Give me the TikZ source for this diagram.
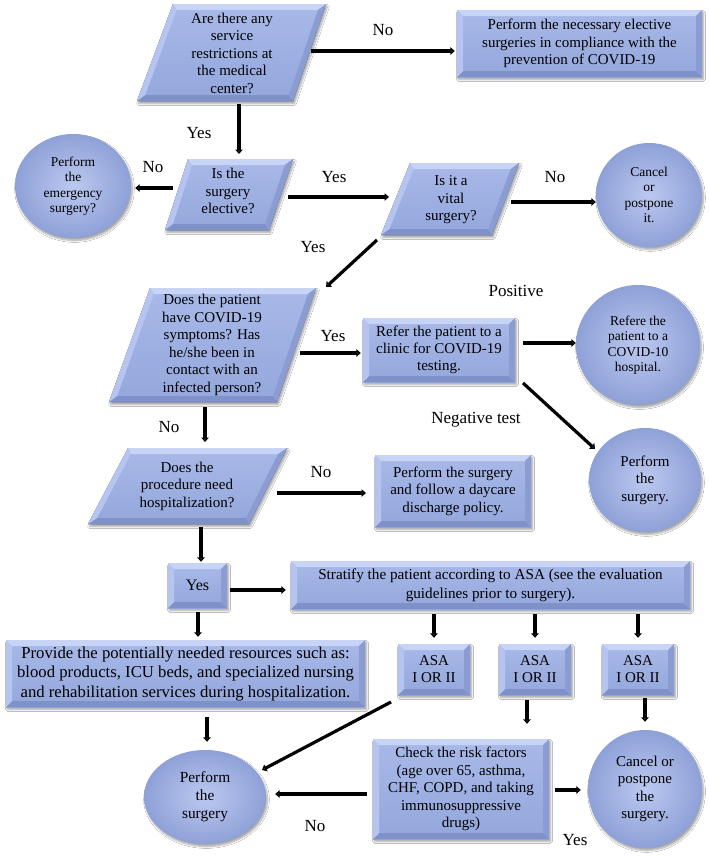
\documentclass[tikz,border=0pt]{standalone}
\usepackage{fontspec}
\setmainfont{Liberation Serif}
\usetikzlibrary{calc,arrows.meta,shadows.blur,shapes.geometric}
\definecolor{faceA}{HTML}{A8B9E8}
\definecolor{faceB}{HTML}{94A7DC}
\definecolor{bvT}{HTML}{C7D4F6}
\definecolor{bvL}{HTML}{B6C5EF}
\definecolor{bvR}{HTML}{8A9CD2}
\definecolor{bvB}{HTML}{7E91C8}
\definecolor{ballIn}{HTML}{BCC8F0}
\definecolor{ballOut}{HTML}{8EA1D7}
\newcommand{\myfs}[2]{\fontsize{#1}{#2}\selectfont}
\newcommand{\mypgram}[7]{%
  \coordinate (#1tl) at (#2,#6);
  \coordinate (#1tr) at (#3,#6);
  \coordinate (#1bl) at (#4,#7);
  \coordinate (#1br) at (#5,#7);
  \pgfmathsetmacro\myt{6/(#7-#6)}%
  \coordinate (#1itl) at ($(#1tl)!\myt!(#1bl)+(6pt,0pt)$);
  \coordinate (#1itr) at ($(#1tr)!\myt!(#1br)+(-6pt,0pt)$);
  \coordinate (#1ibl) at ($(#1bl)!\myt!(#1tl)+(6pt,0pt)$);
  \coordinate (#1ibr) at ($(#1br)!\myt!(#1tr)+(-6pt,0pt)$);
  \fill[shad, top color=faceA, bottom color=faceB] (#1tl) -- (#1tr) -- (#1br) -- (#1bl) -- cycle;
  \fill[bvT] (#1tl) -- (#1tr) -- (#1itr) -- (#1itl) -- cycle;
  \fill[bvB] (#1bl) -- (#1br) -- (#1ibr) -- (#1ibl) -- cycle;
  \fill[bvL] (#1tl) -- (#1itl) -- (#1ibl) -- (#1bl) -- cycle;
  \fill[bvR] (#1tr) -- (#1itr) -- (#1ibr) -- (#1br) -- cycle;
}
\tikzset{
  shad/.style={blur shadow={shadow xshift=1.5pt, shadow yshift=-2.5pt, shadow blur steps=6, shadow opacity=35}},
  bevelbox/.style={rectangle, inner sep=0pt, align=center, shad, top color=faceA, bottom color=faceB,
    path picture={
      \path (path picture bounding box.north west) coordinate (bbnw)
            (path picture bounding box.north east) coordinate (bbne)
            (path picture bounding box.south west) coordinate (bbsw)
            (path picture bounding box.south east) coordinate (bbse);
      \fill[bvT] (bbnw) -- (bbne) -- ([shift={(-6pt,-6pt)}]bbne) -- ([shift={(6pt,-6pt)}]bbnw) -- cycle;
      \fill[bvB] (bbsw) -- (bbse) -- ([shift={(-6pt,6pt)}]bbse) -- ([shift={(6pt,6pt)}]bbsw) -- cycle;
      \fill[bvL] (bbnw) -- ([shift={(6pt,-6pt)}]bbnw) -- ([shift={(6pt,6pt)}]bbsw) -- (bbsw) -- cycle;
      \fill[bvR] (bbne) -- ([shift={(-6pt,-6pt)}]bbne) -- ([shift={(-6pt,6pt)}]bbse) -- (bbse) -- cycle;
    }},
  ball/.style={ellipse, inner sep=0pt, align=center, shad, inner color=ballIn, outer color=ballOut},
  ptext/.style={align=center, inner sep=0pt, font=\myfs{15}{17.5}},
  lab/.style={inner sep=0pt, font=\myfs{17}{19}},
  arr/.style={line width=3.2pt, -{Triangle[length=4.5pt,width=7.5pt]}},
}
\begin{document}
\begin{tikzpicture}[x=1pt,y=-1pt]
\useasboundingbox (0,0) rectangle (709,857);
\fill[white] (0,0) rectangle (709,857);

% ---------- parallelograms ----------
\mypgram{pa}{173}{326}{137}{293}{4}{101}
\node[ptext] (p1) at (232,53) {Are there any\\service\\restrictions at\\the medical\\center?};
\mypgram{pb}{188}{293}{165}{269}{159}{230}
\node[ptext] (p2) at (228,191) {Is the\\surgery\\elective?};
\mypgram{pc}{410}{519}{381}{492}{163}{235}
\node[ptext] (p3) at (451,200) {Is it a\\vital\\surgery?};
\mypgram{pd}{150}{316}{109}{277}{288}{402}
\node[ptext] (p4) at (212,345) {Does the patient\\have COVID-19\\symptoms? Has\\he/she been in\\contact with an\\infected person?};
\mypgram{pe}{128}{287}{88}{249}{448}{524}
\node[ptext] (p5) at (187,486) {Does the\\procedure need\\hospitalization?};

% ---------- boxes ----------
\node[bevelbox, minimum width=245pt, minimum height=67pt, font=\myfs{15}{17.5}] (box1) at (579.5,43.5)
  {Perform the necessary elective\\surgeries in compliance with the\\prevention of COVID-19};
\node[bevelbox, minimum width=152pt, minimum height=64pt, font=\myfs{15}{17}] (refer) at (439,350)
  {Refer the patient to a\\clinic for COVID-19\\testing.};
\node[bevelbox, minimum width=156pt, minimum height=72pt, font=\myfs{15}{17.5}] (daycare) at (453,491)
  {Perform the surgery\\and follow a daycare\\discharge policy.};
\node[bevelbox, minimum width=59pt, minimum height=45pt, font=\myfs{16}{18}] (yesbox) at (197.5,585.5) {Yes};
\node[bevelbox, minimum width=399pt, minimum height=48pt, font=\myfs{15.2}{19}] (strat) at (490.5,585)
  {Stratify the patient according to ASA (see the evaluation\\guidelines prior to surgery).};
\node[bevelbox, minimum width=359pt, minimum height=67pt, font=\myfs{16.7}{19.5}] (provide) at (185.5,673.5)
  {Provide the potentially needed resources such as:\\blood products, ICU beds, and specialized nursing\\and rehabilitation services during hospitalization.};
\node[bevelbox, minimum width=72pt, minimum height=51pt, font=\myfs{15}{17}] (asa1) at (434,669.5) {ASA\\I OR II};
\node[bevelbox, minimum width=72pt, minimum height=51pt, font=\myfs{15}{17}] (asa2) at (535,669.5) {ASA\\I OR II};
\node[bevelbox, minimum width=72pt, minimum height=51pt, font=\myfs{15}{17}] (asa3) at (638,669.5) {ASA\\I OR II};
\node[bevelbox, minimum width=176pt, minimum height=100pt, font=\myfs{15}{17.6}] (check) at (461,789)
  {Check the risk factors\\(age over 65, asthma,\\CHF, COPD, and taking\\immunosuppressive\\drugs)};

% ---------- circles ----------
\node[ball, minimum width=116pt, minimum height=104pt, font=\myfs{13.5}{15.5}] (emerg) at (73,186) {Perform\\the\\emergency\\surgery?};
\node[ball, minimum width=106pt, minimum height=104pt, font=\myfs{13.5}{15.5}] (cancel1) at (649,195) {Cancel\\or\\postpone\\it.};
\node[ball, minimum width=124pt, minimum height=120pt, font=\myfs{13.5}{15.5}] (hosp) at (638,345) {Refere the\\patient to a\\COVID-10\\hospital.};
\node[ball, minimum width=112pt, minimum height=104pt, font=\myfs{15}{17.5}] (perf2) at (645,480) {Perform\\the\\surgery.};
\node[ball, minimum width=122pt, minimum height=94pt, font=\myfs{15.4}{18}] (perf3) at (205,797) {Perform\\the\\surgery};
\node[ball, minimum width=114pt, minimum height=118pt, font=\myfs{15}{17.3}] (cancel2) at (645,789) {Cancel or\\postpone\\the\\surgery.};

% ---------- connector end points ----------
\coordinate (s1) at (311,51);
\coordinate (s2) at (239,104);  \coordinate (e2) at (239,154);
\coordinate (s3) at (173,188);
\coordinate (s4) at (288,197);  \coordinate (e4) at (389,197);
\coordinate (s5) at (511,202);
\coordinate (s6) at (377,240);  \coordinate (e6) at (326,287);
\coordinate (s7) at (300,353);
\coordinate (s8) at (523,343);
\coordinate (s9) at (523,383);  \coordinate (e9) at (595,449);
\coordinate (s10) at (205,407); \coordinate (e10) at (205,442);
\coordinate (s11) at (277,493); \coordinate (e11) at (366,493);
\coordinate (s12) at (201,527);
\coordinate (s13) at (391,702); \coordinate (e13) at (262,770);

% ---------- connectors ----------
\draw[arr, shorten >=2pt] (s1) -- (s1 -| box1.west);
\draw[arr] (s2) -- (e2);
\draw[arr, shorten >=4pt] (s3) -- (s3 -| emerg.east);
\draw[arr] (s4) -- (e4);
\draw[arr, shorten >=0pt] (s5) -- (s5 -| cancel1.west);
\draw[arr] (s6) -- (e6);
\draw[arr, shorten >=2pt] (s7) -- (s7 -| refer.west);
\draw[arr, shorten >=0pt] (s8) -- (s8 -| hosp.west);
\draw[arr] (s9) -- (e9);
\draw[arr] (s10) -- (e10);
\draw[arr] (s11) -- (e11);
\draw[arr, shorten >=1pt] (s12) -- (s12 |- yesbox.north);
\draw[arr, shorten <=3pt, shorten >=5pt] ([yshift=-4.5pt]yesbox.east) -- ([yshift=-4.5pt]yesbox.east -| strat.west);
\draw[arr, shorten <=4pt, shorten >=3pt] ([xshift=0.5pt]yesbox.south) -- ([xshift=0.5pt]yesbox.south |- provide.north);
\draw[arr, shorten <=5pt, shorten >=6pt] (strat.south -| asa1) -- (asa1.north);
\draw[arr, shorten <=5pt, shorten >=6pt] (strat.south -| asa2) -- (asa2.north);
\draw[arr, shorten <=5pt, shorten >=6pt] (strat.south -| asa3) -- (asa3.north);
\draw[arr, shorten <=10pt, shorten >=8pt] ([xshift=21.5pt]provide.south) -- ([xshift=21.5pt]provide.south |- perf3.north);
\draw[arr] (s13) -- (e13);
\draw[arr, shorten <=5pt, shorten >=15pt] ([xshift=-8pt]asa2.south) -- ([xshift=-8pt]asa2.south |- check.north);
\draw[arr, shorten <=3pt, shorten >=8pt] ([xshift=7pt]asa3.south) -- ([xshift=7pt]asa3.south |- cancel2.north);
\draw[arr, shorten <=6pt, shorten >=9pt] ([yshift=-5pt]check.west) -- ([yshift=-5pt]check.west -| perf3.east);
\draw[arr, shorten <=6pt, shorten >=7pt] ([yshift=-1pt]check.east) -- ([yshift=-1pt]check.east -| cancel2.west);

% ---------- labels ----------
\node[lab] (l1) at (383,30) {No};
\node[lab] (l2) at (199,133) {Yes};
\node[lab] (l3) at (153,167) {No};
\node[lab] (l4) at (334,177) {Yes};
\node[lab] (l5) at (555,177) {No};
\node[lab] (l6) at (313,247) {Yes};
\node[lab] (l7) at (333,336) {Yes};
\node[lab] (l8) at (516,291) {Positive};
\node[lab] (l9) at (476,420) {Negative test};
\node[lab] (l10) at (169,427) {No};
\node[lab] (l11) at (321,472) {No};
\node[lab] (l12) at (315,826) {No};
\node[lab] (l13) at (575,840) {Yes};
\end{tikzpicture}
\end{document}
